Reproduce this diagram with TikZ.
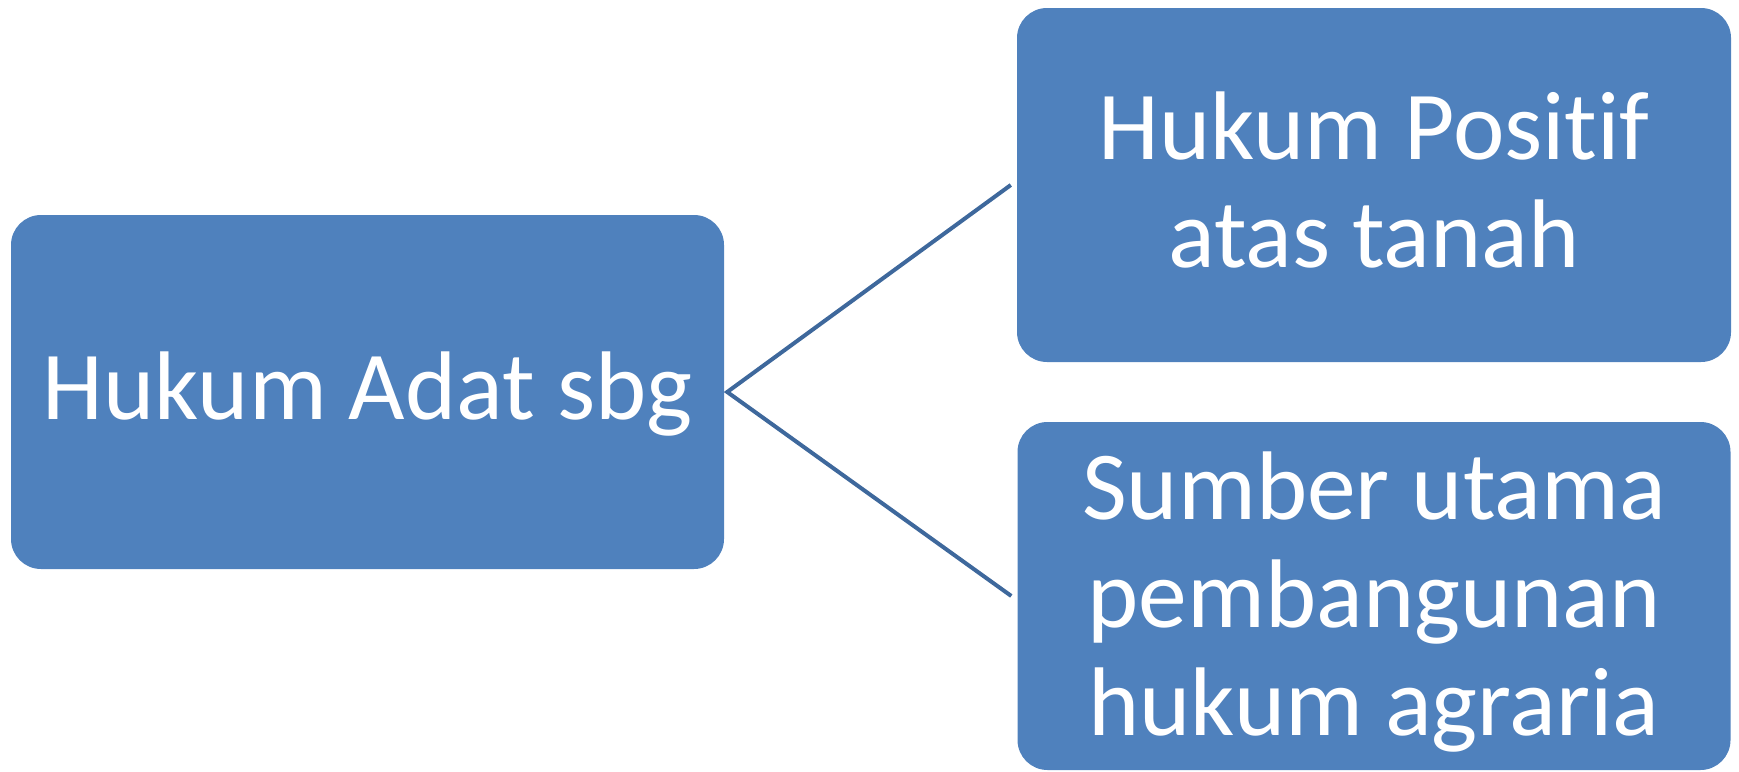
\documentclass[tikz,border=0pt]{standalone}
\usepackage{fontspec}
\setmainfont[RawFeature={-liga;-dlig;-clig}]{Carlito}
\definecolor{boxblue}{RGB}{79,129,189}
\definecolor{linkblue}{RGB}{62,104,156}
\begin{document}
\begin{tikzpicture}[x=1pt,y=-1pt,
  box/.style={fill=boxblue, rounded corners=30pt, inner sep=0pt},
  label/.style={text=white, align=center, inner sep=0pt,
    font=\fontsize{97.5}{108}\selectfont},
  link/.style={draw=linkblue, line width=4pt}]
\useasboundingbox (0,0) rectangle (1739,771);
% boxes
\node[box, minimum width=713pt, minimum height=354pt] (src) at (367.5,392) {};
\node[box, minimum width=714pt, minimum height=354pt] (pos) at (1374,185) {};
\node[box, minimum width=713pt, minimum height=348pt] (sum) at (1374,596) {};
% box texts (yshift is in page direction: positive moves up)
\node[label] (srctext) at ([yshift=-2pt]src.center) {Hukum Adat sbg};
\node[label] (postext) at ([yshift=5pt]pos.center) {Hukum Positif\\atas tanah};
\node[label] (sumtext) at ([yshift=-6pt]sum.center) {Sumber utama\\pembangunan\\hukum agraria};
% connectors
\coordinate (hub) at ([xshift=3pt]src.east);
\coordinate (posend) at ([xshift=-6pt]pos.west);
\coordinate (sumend) at ([xshift=-6pt]sum.west);
\draw[link] (posend) -- (hub) -- (sumend);
\end{tikzpicture}
\end{document}
